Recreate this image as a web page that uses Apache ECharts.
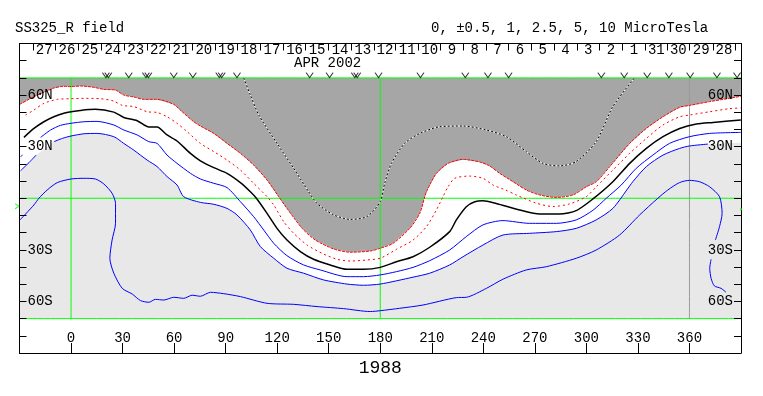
<!DOCTYPE html>
<html><head><meta charset="utf-8">
<style>html,body{margin:0;padding:0;background:#fff}#c{width:763px;height:396px}</style>
<script src="https://cdn.jsdelivr.net/npm/echarts@6/dist/echarts.min.js"></script>
</head><body><div id="c"></div>
<script>
// Contours are [longitude, latitude]
const redOuter=[[-29.8,54.6],[-21.6,59.1],[-15.8,61.6],[-10,64.1],[-4.2,65.1],[0,64.9],[5.5,65.3],[13.3,64.5],[19.1,63.3],[25.9,62.9],[30.7,60],[36.5,58.9],[42.4,57.5],[50.1,57.5],[59.8,54.6],[64.7,50.3],[71.4,44.5],[75.3,42],[83.1,37.7],[90.8,31.9],[98.6,26.1],[106.3,19.3],[114.1,10.6],[120.9,0.9],[125.7,-5.9],[134.5,-17.5],[142.2,-24.3],[152.9,-29.5],[162.6,-31.4],[174.2,-30.7],[180,-29.1],[187.5,-26.2],[197.2,-17.5],[203,-8.8],[205.9,0.9],[206.9,3.8],[208.8,7.7],[212.7,14.5],[219.5,20.3],[228.2,22.6],[237.9,21.1],[243.7,18.8],[249.5,14.5],[257.3,9.6],[265,4.8],[272.8,1.9],[282.5,0.5],[292.2,1.9],[300,6.7],[305.8,9.6],[313.6,18.4],[325.2,31.9],[334.9,40.6],[344.6,47.4],[354.3,52.9],[360.1,54],[371.7,56.2],[383.3,58.1],[389.9,59.3]];
const redInner=[[-26.5,48.4],[-21.6,51.3],[-15.8,55.2],[-8,57.5],[0,57.9],[7.5,58.1],[17.2,57.9],[24.9,56.5],[29.8,54],[36.5,53.3],[44.3,50.3],[50.1,49.9],[55.9,47.4],[61.7,43.6],[67.6,38.7],[75.3,31.9],[83.1,27.1],[90.8,22.2],[98.6,16.4],[106.3,8.7],[114.1,0.9],[118,-3.9],[123.8,-13.6],[129.6,-20.4],[137.4,-27.2],[146.1,-32],[154.8,-35.5],[162.6,-36.5],[172.2,-35.9],[180,-34.9],[189.4,-29.7],[199.1,-24.3],[206.9,-16.5],[212.7,-6.8],[216.5,0.9],[219.5,6.7],[223.3,11.6],[232.1,12.9],[239.8,11.6],[245.6,7.7],[253,4.8],[259.2,1.9],[270.9,-2.9],[280.5,-4.8],[290.2,-3.3],[299.9,0.9],[305.8,6.7],[315.4,16.4],[325.2,26.1],[334.9,34.8],[344.6,42.6],[354.3,47.4],[360.1,48.4],[371.7,50.3],[383.3,52.1],[389.9,52.5]];
const blackLine=[[-27.4,35.4],[-21.6,40.6],[-15.8,44.5],[-10,47.4],[-4.2,49.4],[0,50.3],[5.5,51.1],[14.2,51.7],[24.9,50.1],[30.7,47],[38.5,45.1],[45.3,41.4],[50.1,41.4],[55.9,36.8],[61.7,33.3],[69.5,26.1],[75.3,21.8],[83.1,17.8],[90.8,14.5],[98.6,9.1],[104.4,3.8],[107.9,0],[114.1,-8.8],[119.9,-17.5],[125.7,-24.3],[133.5,-31],[141.2,-35.5],[150.9,-38.8],[160.6,-41.3],[170.3,-41.3],[180,-40.2],[189.4,-36.9],[199.1,-34],[208.8,-28.5],[220.4,-19.4],[224.3,-12.6],[230.1,-4.9],[235,-2],[239.8,-1.4],[247.5,-3],[261.1,-6.8],[272.8,-9.2],[284.4,-9.2],[294.1,-7.2],[303.8,-0.4],[315.4,9.6],[325.2,20.3],[334.9,29],[344.6,35.8],[354.3,40.6],[364,43.2],[373.7,44.1],[389.9,45.5]];
const blue1Left=[[-29.4,24.2],[-28.2,25.1]];
const blue1=[[-17.7,35.4],[-11.9,39.7],[-6.1,42.4],[0,43.6],[7.5,44.5],[15.2,44.7],[24.9,42.6],[30.7,39.7],[38.5,36.8],[45.3,32.9],[50.1,31.9],[55.9,25.1],[61.7,20.3],[69.5,14.5],[75.3,11.2],[83.1,8.7],[90.8,6.2],[98.6,-2],[106.3,-10.7],[112.2,-18.5],[118,-26.2],[125.7,-33.4],[135.4,-38.8],[145.1,-41.7],[160.6,-45.6],[170.3,-45.6],[180,-44.6],[189.4,-42.7],[199.1,-40.2],[208.8,-36.3],[220.4,-30.1],[230.1,-22.3],[239.8,-15.5],[251.4,-13],[266.9,-14.6],[282.5,-14.6],[294.1,-12.6],[303.8,-7],[311.6,0],[320.3,7.7],[329,17.4],[338.7,25.1],[348.4,31.9],[360,35.8],[371.7,37.7],[389.9,38.3]];
const blue2Left=[[-29.4,16],[-24.5,20.7],[-20.3,25.1]];
const blue2=[[-10,32.9],[-5.1,34.8],[0,36.2],[7.5,37.5],[15.2,37.7],[24.9,35.8],[30.7,31.9],[36.5,28],[44.3,22.2],[50.1,18.4],[55.9,12.6],[61.7,7.7],[65.6,0.9],[75.3,-2.4],[83.1,-3.5],[90.8,-5.9],[96.6,-9.7],[104.4,-18.5],[110.2,-28.1],[118,-34.9],[125.7,-40.7],[135.4,-43.6],[147,-47.5],[160.6,-49.9],[170.3,-50.6],[180,-49.9],[199.1,-45.9],[208.8,-43.6],[220.4,-38.8],[228.2,-34],[239.8,-27.2],[251.4,-21.4],[266.9,-20.4],[282.5,-19.4],[294.1,-17.5],[305.7,-12.6],[315.4,-5.9],[323.5,4.8],[327,9.6],[334.9,18.4],[344.6,25.1],[354.3,29],[360,30.4],[370.7,31.5]];
const blue2Hidden=[[389.9,32.3]];
const blue3=[[-29.8,-12.7],[-21.6,-3.9],[-18.7,0],[-13.9,4.8],[-8,9.1],[0,11.2],[7.5,11.6],[14.2,11.2],[19.1,8.3],[23.9,2.9],[25.9,-3],[25.9,-14.6],[23.9,-24.3],[22.6,-34.9],[24.9,-43.6],[29.8,-52.4],[35.6,-55.7],[40.4,-59.5],[45.3,-60.5],[49.1,-58.8],[54,-59.2],[59.8,-57.6],[65.6,-58.2],[70.5,-56.4],[75.3,-57],[81.2,-54.7],[88.9,-55.5],[98.6,-57.2],[114.1,-61.1],[129.6,-61.7],[143.2,-63],[158.7,-64.2],[174.2,-65.9],[180,-65.4],[191.3,-64],[204.9,-62.1],[224.3,-57.8],[230.1,-57.6],[241.8,-52.4],[251.4,-47.1],[265,-41.7],[276.7,-39.8],[294.1,-34.9],[305.7,-30.1],[319.3,-21.4],[331,-9.7],[341.6,0],[347.4,4.8],[354.2,9.1],[360,10.4],[365.9,9.6],[371.7,6.7],[377.5,0.9],[379,-8.8],[377.5,-16.5],[375.1,-24.3]];
const blue3Tail=[[372.6,-35.5],[371.8,-40.7],[372.6,-46.6],[374.5,-51],[378.4,-52.4],[381.3,-54.7]];
const neutralLine=[[100.5,70],[104.4,60],[109.3,48.4],[119.9,31.9],[129.6,17.4],[138.3,3.8],[143.2,-3],[152.9,-9.7],[162.6,-12.3],[172.2,-10.7],[180,-2],[182.6,8.7],[186.5,20.3],[194.2,31.9],[203,37.7],[214.6,41.6],[228.2,42],[241.7,39.7],[253.4,35.8],[265,27.1],[274.7,20.3],[284.4,18.8],[294,21.3],[305.7,32.9],[315.4,53.3],[328,70]];
const dayTicks=[-22.2,-9,4.2,17.7,30.9,44.3,57.3,70.7,83.9,97,110.2,123.8,136.4,150,163.2,176.5,189,202.4,215.2,228.2,241.8,254.7,267.9,281.1,294.5,307.7,320.9,334.4,347,360,373.6,386.6];
const dayLabels=[27,26,25,24,23,22,21,20,19,18,17,16,15,14,13,12,11,10,9,8,7,6,5,4,3,2,1,31,30,29,28];
const sectorMarks=[20.3,21.7,33.6,43.6,45,59.8,70.9,86.3,87.7,96.6,138.9,150.5,165.2,166.6,179,203.4,229.5,242.7,254.7,308.7,322,335.4,348,360.4,376,387.7];
const latLabels={60:'60N',30:'30N','-30':'30S','-60':'60S'};
const lonLabels=[0,30,60,90,120,150,180,210,240,270,300,330,360];

const font='"Liberation Mono",monospace';
const dayMids=dayLabels.map((_,i)=>(dayTicks[i]+dayTicks[i+1])/2);
const poly=(pts,fill)=>({type:'custom',coordinateSystem:'cartesian2d',xAxisIndex:0,yAxisIndex:0,silent:true,z:1,clip:true,
  data:[[0,0]],renderItem:(p,api)=>({type:'polygon',shape:{points:pts.map(q=>api.coord(q))},style:{fill:fill}})});
const line=(data,color,width,type,z)=>({type:'line',data:data,symbol:'none',smooth:0.25,silent:true,z:z||4,animation:false,
  lineStyle:{color:color,width:width,type:type||'solid'}});
const latTick=v=>latLabels[v]||'';
const chart=echarts.init(document.getElementById('c'),null,{renderer:'canvas'});
chart.setOption({
  animation:false,backgroundColor:'#fff',
  grid:{left:19.5,right:22,top:43.5,height:309.5,containLabel:false},
  xAxis:[
    {type:'value',position:'bottom',min:-30,max:390,interval:30,z:10,splitLine:{show:false},
     name:'1988',nameLocation:'middle',nameGap:5,nameTextStyle:{fontFamily:font,fontSize:18,color:'#000'},
     axisLine:{onZero:false,lineStyle:{color:'#000'}},axisTick:{inside:true,length:10,lineStyle:{color:'#000'}},
     axisLabel:{inside:true,margin:8,fontFamily:font,fontSize:14,color:'#000',showMinLabel:false,showMaxLabel:false,
       formatter:v=>lonLabels.includes(v)?String(v):''}},
    {type:'value',position:'top',min:-30,max:390,z:10,splitLine:{show:false},
     axisLine:{onZero:false,lineStyle:{color:'#000'}},axisTick:{inside:true,length:7,customValues:dayTicks,lineStyle:{color:'#000'}},
     axisLabel:{inside:true,margin:0,fontFamily:font,fontSize:14,color:'#000',customValues:dayMids,verticalAlign:'top',
       formatter:v=>String(dayLabels[dayMids.indexOf(v)])}}
  ],
  yAxis:[
    {type:'value',position:'left',min:-90,max:90,interval:10,z:10,splitLine:{show:false},
     axisLine:{onZero:false,lineStyle:{color:'#000'}},axisTick:{inside:true,length:7,lineStyle:{color:'#000'}},
     axisLabel:{inside:true,margin:8,fontFamily:font,fontSize:14,color:'#000',formatter:latTick}},
    {type:'value',position:'right',min:-90,max:90,interval:10,z:10,splitLine:{show:false},
     axisLine:{onZero:false,lineStyle:{color:'#000'}},axisTick:{inside:true,length:7,lineStyle:{color:'#000'}},
     axisLabel:{inside:true,margin:8,fontFamily:font,fontSize:14,color:'#000',formatter:latTick}}
  ],
  graphic:[
    {type:'text',left:15,top:21,style:{text:'SS325_R field',fontFamily:font,fontSize:14,fill:'#000'}},
    {type:'text',left:431,top:21,style:{text:'0, ±0.5, 1, 2.5, 5, 10 MicroTesla',fontFamily:font,fontSize:14,fill:'#000'}},
    {type:'text',left:294,top:56,style:{text:'APR 2002',fontFamily:font,fontSize:14,fill:'#000'}}
  ],
  series:[
    poly(redOuter.concat([[390,70],[-30,70]]),'#a6a6a6'),
    poly(blue2Left.concat(blue2,blue2Hidden,[[390,-70],[-30,-70]]),'#e8e8e8'),
    line([[0,-70],[0,70]],'#00ff00',1,'solid',3),
    line([[180,-70],[180,70]],'#00ff00',1,'solid',3),
    line([[360,-70],[360,70]],'#999999',1,'solid',3),
    line([[-30,0],[390,0]],'#00ff00',1,'solid',3),
    line([[-30,70],[390,70]],'#00ff00',1,'solid',3),
    line([[-30,-70],[390,-70]],'#00ff00',1,'solid',3),
    line(neutralLine,'#ffffff',1),
    line(neutralLine,'#000000',1,[2,2],5),
    line(redOuter,'#ff0000',1,[3,1]),
    line(redInner,'#ff0000',1,[2,3]),
    line(blackLine,'#000000',1.5),
    line(blue1Left,'#0000ff',1),
    line(blue1,'#0000ff',1),
    line(blue2Left,'#0000ff',1),
    line(blue2,'#0000ff',1),
    line(blue3,'#0000ff',1),
    line(blue3Tail,'#0000ff',1),
    {type:'scatter',silent:true,clip:false,z:6,data:sectorMarks.map(v=>[v,71.6]),symbol:'path://M0,0L5,10L10,0',symbolSize:[7,5],
     itemStyle:{color:'none',borderColor:'#000',borderWidth:1}},
    {type:'scatter',silent:true,clip:false,z:6,data:[[-31.4,-4.6]],symbol:'path://M0,0L10,5L0,10',symbolSize:[4,5],
     itemStyle:{color:'none',borderColor:'#00ff00',borderWidth:1}},
    {type:'scatter',silent:true,clip:false,z:11,data:[[390,-6.4]],symbol:'rect',symbolSize:2,itemStyle:{color:'#00ff00'}}
  ]
});
</script></body></html>
